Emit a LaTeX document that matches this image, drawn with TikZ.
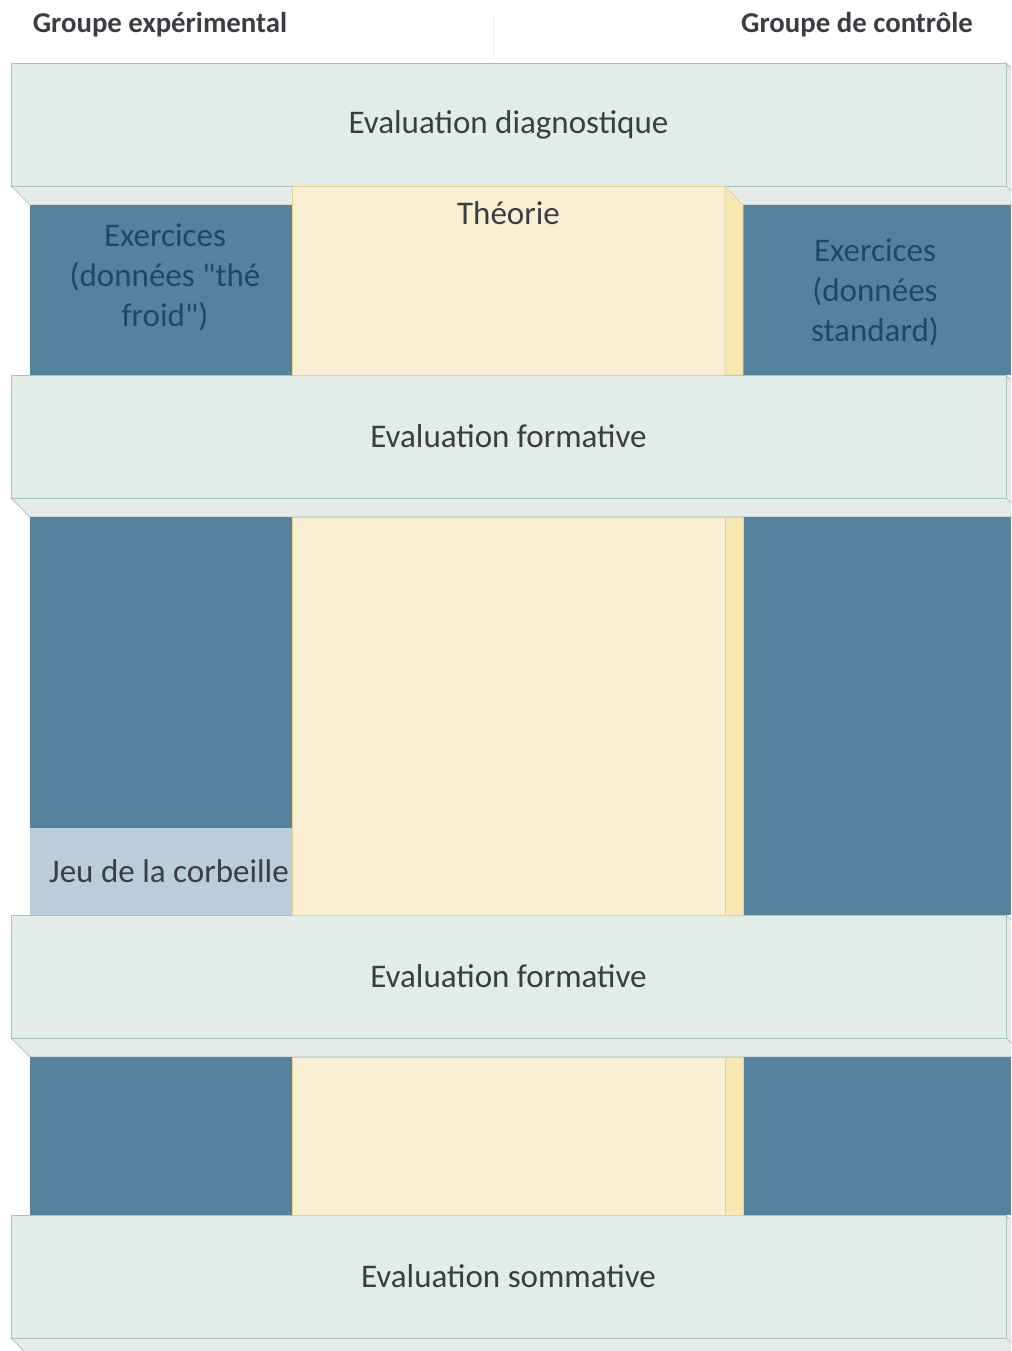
\documentclass[tikz,border=0pt]{standalone}
\usepackage{fontspec}
\setmainfont{Carlito}[Ligatures=TeXOff]
\usepackage{tikz}

\definecolor{barfront}{HTML}{E1EDE6}
\definecolor{barside}{HTML}{E4EBE9}
\definecolor{barline}{HTML}{A3C2B9}
\definecolor{colblue}{HTML}{56839B}
\definecolor{theory}{HTML}{FAEFD3}
\definecolor{theoryside}{HTML}{F8E6B4}
\definecolor{theoryline}{HTML}{E6CF8E}
\definecolor{jeubox}{HTML}{B9CEDA}
\definecolor{txtgray}{HTML}{3A3E42}
\definecolor{txtblue}{HTML}{1D4A62}

\begin{document}
\begin{tikzpicture}[x=0.02cm,y=-0.02cm,font=\fontsize{18.8}{22.8}\selectfont,
  grouplabel/.style={font=\fontsize{16.4}{19}\selectfont\bfseries,text=txtgray},
  evaltext/.style={text=txtgray},
  coltext/.style={align=center,text=txtblue}]
\useasboundingbox (0,0) rectangle (1011,1351);
\fill[white] (0,0) rectangle (1011,1351);
\clip (0,0) rectangle (1011,1351);
% group headers
\node[grouplabel] (expe) at (160,25) {Groupe expérimental};
\node[grouplabel] (ctrl) at (857,25) {Groupe de contrôle};
\draw[black!8] (493,15) -- (493,58);
% evaluation bars
\foreach \y/\nm/\txt in {63/diag/Evaluation diagnostique,375/forma/Evaluation formative,
    915/formb/Evaluation formative,1215/somm/Evaluation sommative} {
  \filldraw[fill=barside,draw=barline] (11,\y+123) -- (1006,\y+123) -- (1025,\y+142) -- (30,\y+142) -- cycle;
  \filldraw[fill=barside,draw=barline] (1006,\y) -- (1025,\y+19) -- (1025,\y+142) -- (1006,\y+123) -- cycle;
  \filldraw[fill=barfront,draw=barline] (11,\y) rectangle (1006,\y+123);
  \node[evaltext] (\nm) at (508.5,\y+61.5) {\txt};
}
% columns between the bars
\foreach \dtop/\ytop/\sl/\bot in {205/186/19/375,517/517/0/915,1057/1057/0/1215} {
  \fill[colblue] (30,\dtop) rectangle (292,\bot);
  \fill[colblue] (743,\dtop) rectangle (1011,\bot);
  \filldraw[fill=theory,draw=theoryline] (292,\ytop) rectangle (725,\bot);
  \filldraw[fill=theoryside,draw=theoryline] (725,\ytop) -- (743,\ytop+\sl) -- (743,\bot) -- (725,\bot) -- cycle;
}
\fill[jeubox] (30,828) rectangle (292,915);
% texts in the columns
\node[coltext] (exexp) at (165,277) {Exercices\\(données "thé\\froid")};
\node[coltext] (exctrl) at (875,292) {Exercices\\(données\\standard)};
\node[evaltext] (theo) at (508.5,213) {Théorie};
\node[evaltext] (jeu) at (169,871) {Jeu de la corbeille};
\end{tikzpicture}
\end{document}
